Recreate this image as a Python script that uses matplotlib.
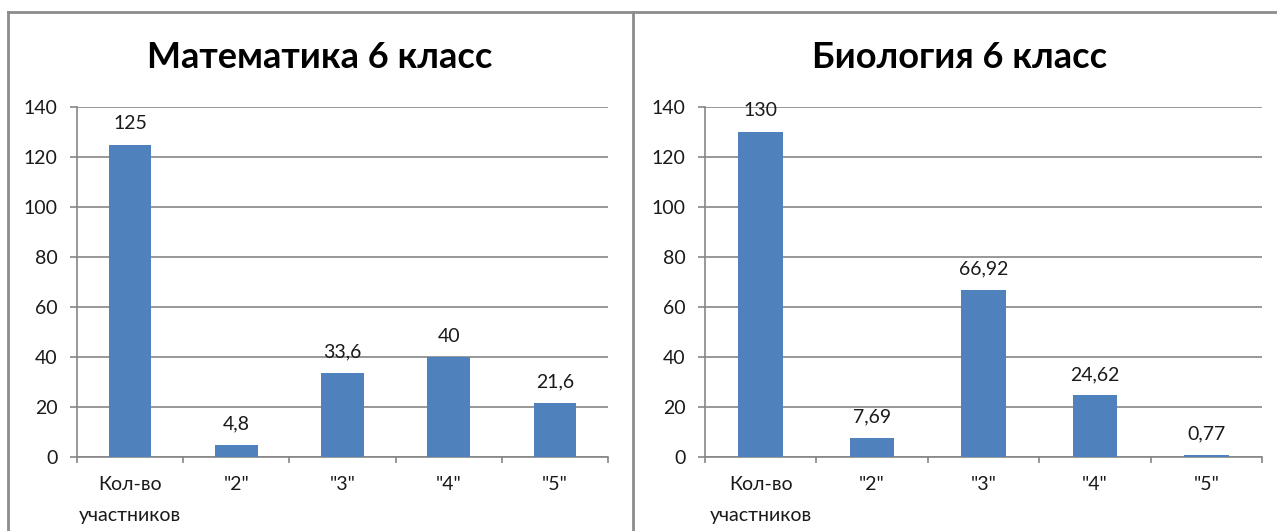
import matplotlib.pyplot as plt
from matplotlib.lines import Line2D

categories = ['Кол-во\nучастников', '"2"', '"3"', '"4"', '"5"']
math_values = [125, 4.8, 33.6, 40, 21.6]
bio_values = [130, 7.69, 66.92, 24.62, 0.77]
math_labels = ['125', '4,8', '33,6', '40', '21,6']
bio_labels = ['130', '7,69', '66,92', '24,62', '0,77']

plt.rcParams['font.family'] = ['Lato', 'DejaVu Sans']

BAR = '#4F81BD'
GRID = '#868686'
TEXT = '#1a1a1a'

fig = plt.figure(figsize=(12.77, 5.31), dpi=100)
W, H = 1277, 531


def draw_chart(rect, title, values, labels, title_x):
    ax = fig.add_axes(rect)
    x = range(len(categories))
    ax.bar(x, values, width=0.4, color=BAR, zorder=3)
    for xi, v, lab in zip(x, values, labels):
        ax.annotate(lab, (xi, v), xytext=(0, 9), textcoords='offset points',
                    ha='center', va='bottom', fontsize=14, color=TEXT)
    ax.set_xlim(-0.5, len(categories) - 0.5)
    ax.set_ylim(0, 140)
    ax.set_yticks(range(0, 141, 20))
    ax.yaxis.grid(True, color=GRID, linewidth=1.2, zorder=0)
    ax.set_xticks(x)
    ax.set_xticklabels(categories, fontsize=14, color=TEXT, linespacing=2.0)
    ax.set_xticks([i - 0.5 for i in range(len(categories) + 1)], minor=True)
    ax.tick_params(axis='x', which='major', length=0, pad=14)
    ax.tick_params(axis='x', which='minor', length=4, width=1.2, color=GRID, direction='out')
    ax.tick_params(axis='y', length=5, width=1.2, color=GRID, direction='out', labelsize=14,
                   labelcolor=TEXT, pad=9)
    for s in ['top', 'right']:
        ax.spines[s].set_visible(False)
    for s in ['left', 'bottom']:
        ax.spines[s].set_color(GRID)
        ax.spines[s].set_linewidth(1.2)
    fig.text(title_x, 1 - 58 / H, title, ha='center', va='center',
             fontsize=26, fontweight='bold', color='black')
    return ax


draw_chart([77 / W, 1 - 457 / H, (608 - 77) / W, 350 / H], 'Математика 6 класс',
           math_values, math_labels, 320 / W)
draw_chart([705 / W, 1 - 457 / H, (1262 - 705) / W, 350 / H], 'Биология 6 класс',
           bio_values, bio_labels, 960 / W)

# рамки диаграмм
border = dict(color='#8C8C8C', linewidth=2, transform=fig.transFigure)
fig.add_artist(Line2D([8 / W, 1], [1 - 12 / H, 1 - 12 / H], **border))
fig.add_artist(Line2D([8 / W, 8 / W], [0, 1 - 12 / H], **border))
fig.add_artist(Line2D([633 / W, 633 / W], [0, 1 - 12 / H], **border))

fig.savefig('out.png', dpi=100)
